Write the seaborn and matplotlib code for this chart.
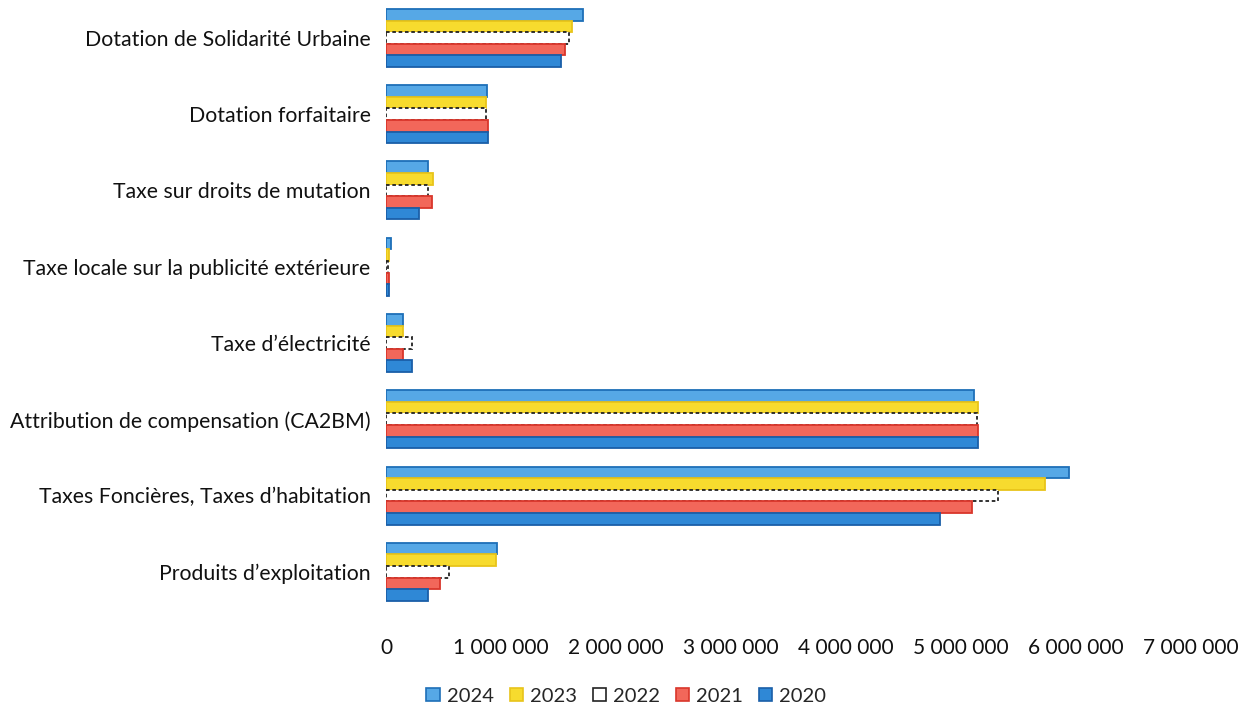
import matplotlib
matplotlib.use("Agg")
import matplotlib.pyplot as plt
import matplotlib.ticker as mticker
from matplotlib.patches import Patch
import seaborn as sns
import pandas as pd

categories = [
    "Dotation de Solidarité Urbaine",
    "Dotation forfaitaire",
    "Taxe sur droits de mutation",
    "Taxe locale sur la publicité extérieure",
    "Taxe d\u2019électricité",
    "Attribution de compensation (CA2BM)",
    "Taxes Foncières, Taxes d\u2019habitation",
    "Produits d\u2019exploitation",
]
years = ["2024", "2023", "2022", "2021", "2020"]

v2024 = [1710000, 880000, 370000, 40000, 150000, 5110000, 5940000, 970000]
v2023 = [1620000, 870000, 410000, 30000, 150000, 5150000, 5730000, 960000]
v2022 = [1590000, 870000, 370000, 20000, 230000, 5140000, 5320000, 550000]
v2021 = [1560000, 890000, 400000, 30000, 150000, 5150000, 5100000, 470000]
v2020 = [1520000, 890000, 290000, 30000, 230000, 5150000, 4820000, 370000]

xticks = [0, 1000000, 2000000, 3000000, 4000000, 5000000, 6000000, 7000000]

series = dict(zip(years, [v2024, v2023, v2022, v2021, v2020]))
rows = []
for y, vals in series.items():
    for c, v in zip(categories, vals):
        rows.append({"Catégorie": c, "Année": y, "Montant": v})
df = pd.DataFrame(rows)

fills = {"2024": "#56A8E6", "2023": "#F7DB2E", "2022": "#FFFFFF",
         "2021": "#F2675A", "2020": "#2F88D6"}
edges = {"2024": "#1E6FB8", "2023": "#E8C41A", "2022": "#222222",
         "2021": "#D9362B", "2020": "#1A5FA8"}

sns.set_theme(style="white")
plt.rcParams["font.family"] = ["Lato", "DejaVu Sans"]

fig = plt.figure(figsize=(12.43, 7.12), dpi=100)
ax = fig.add_axes([0.3105, 0.1433, 0.6476, 0.857])

sns.barplot(data=df, y="Catégorie", x="Montant", hue="Année",
            order=categories, hue_order=years, palette=fills,
            orient="h", width=0.76, ax=ax, legend=False, saturation=1)

for y, cont in zip(years, ax.containers):
    for bar in cont:
        bar.set_edgecolor(edges[y])
        bar.set_linewidth(1.3)
        if y == "2022":
            bar.set_linestyle((0, (2, 1.5)))

ax.set_xlim(0, 7000000)
ax.set_ylim(len(categories) - 0.5, -0.5)
ax.set_xticks(xticks)
ax.xaxis.set_major_formatter(mticker.FuncFormatter(
    lambda v, p: f"{int(v):,}".replace(",", " ")))
ax.set_xlabel("")
ax.set_ylabel("")
for s in ax.spines.values():
    s.set_visible(False)
ax.tick_params(axis="x", length=0, pad=20, labelsize=15, colors="#111111")
ax.tick_params(axis="y", length=0, pad=11, labelsize=15.3, colors="#111111")

handles = [Patch(facecolor=fills[y], edgecolor=edges[y], linewidth=1.2) for y in years]
fig.legend(handles, years, loc="center", bbox_to_anchor=(0.504, 0.022), ncol=5,
           frameon=False, fontsize=14.5, handlelength=0.65, handleheight=0.65,
           handletextpad=0.35, columnspacing=0.8)

fig.savefig("out.png", dpi=100)
